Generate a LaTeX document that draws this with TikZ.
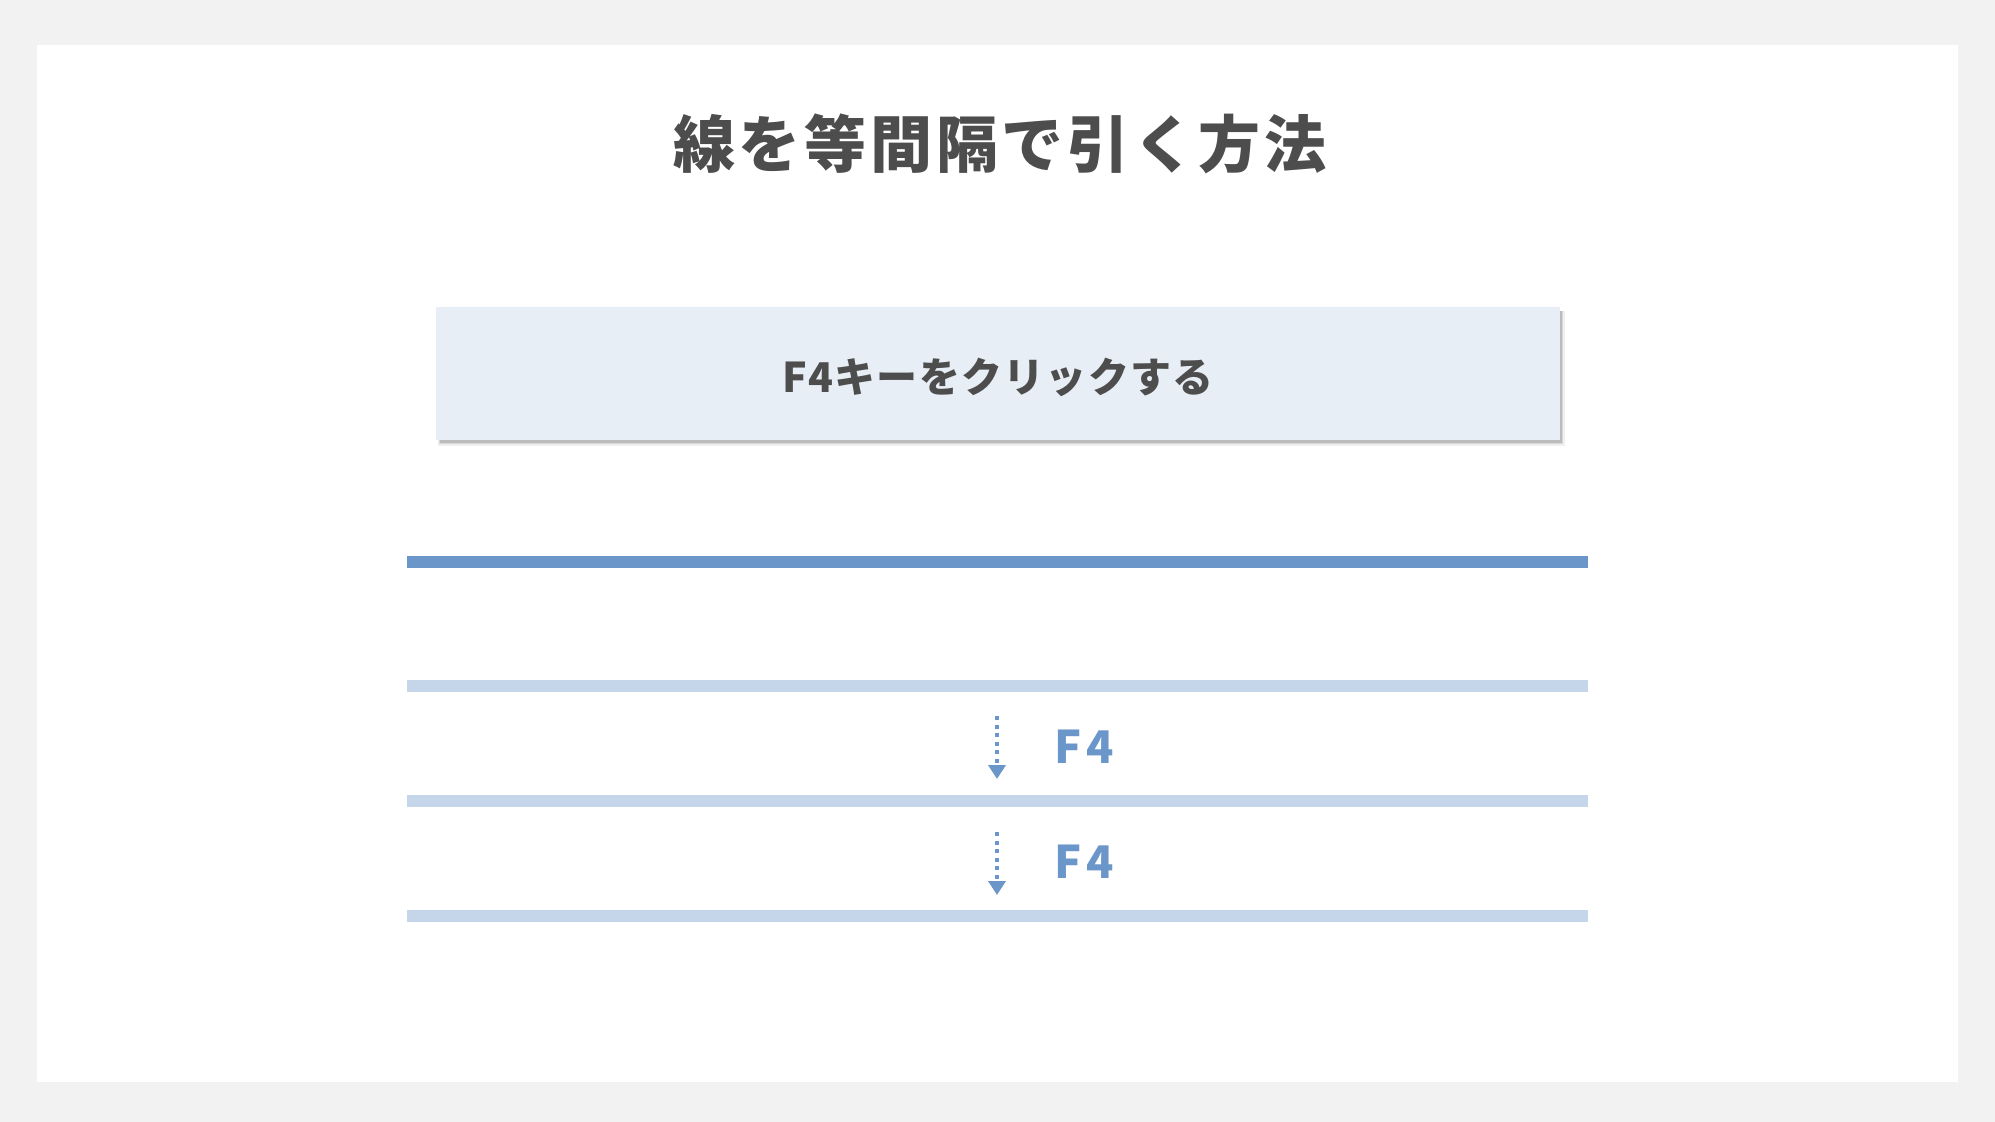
\documentclass[tikz,border=0pt]{standalone}
\usepackage{fontspec}
\newfontfamily\cjk{Noto Sans CJK JP}
\newfontfamily\cjkt{Noto Sans CJK JP}[LetterSpace=6]
\newfontfamily\cjkb{Noto Sans CJK JP}[LetterSpace=3]
\newfontfamily\cjkf{Noto Sans CJK JP}[LetterSpace=10]
\usetikzlibrary{arrows.meta}
\definecolor{outerbg}{HTML}{F2F2F2}
\definecolor{txtgray}{HTML}{4D4D4D}
\definecolor{boxfill}{HTML}{E8EEF6}
\definecolor{mainblue}{HTML}{6A96CA}
\definecolor{lightblue}{HTML}{C5D6EA}
\tikzset{
  hline/.style={fill=#1, draw=none, minimum width=1181pt, minimum height=12pt, inner sep=0pt, outer sep=0pt},
  steparrow/.style={draw=mainblue, line width=4pt, dash pattern=on 4pt off 4.5pt, -{Triangle[width=17pt,length=14pt,fill=mainblue]}, shorten >=0pt},
  f4label/.style={text=mainblue, font=\cjkf\bfseries\fontsize{45}{50}\selectfont},
}
\begin{document}
\begin{tikzpicture}[x=1pt,y=-1pt]
\fill[outerbg] (0,0) rectangle (1995,1122);
\fill[white] (37,45) rectangle (1958,1082);
\useasboundingbox (0,0) rectangle (1995,1122);
% title
\node[text=txtgray, font=\cjkt\bfseries\fontsize{62}{70}\selectfont, inner sep=0pt] (title) at (1000,144) {線を等間隔で引く方法};
% box with shadow
\fill[black, opacity=0.06] (438,311) rectangle (1565,446);
\fill[black, opacity=0.10] (439,311) rectangle (1563,444);
\fill[black, opacity=0.12] (440,311) rectangle (1562,443);
\node[fill=boxfill, draw=none, minimum width=1124pt, minimum height=133pt, inner sep=0pt] (box) at (998,373.5) {};
\node[text=txtgray, font=\cjkb\bfseries\fontsize{41}{46}\selectfont, inner sep=0pt] (boxtext) at ([yshift=-4pt]box.center) {F4キーをクリックする};
% lines
\node[hline=mainblue] (l0) at (997.5,562) {};
\node[hline=lightblue] (l1) at (997.5,686) {};
\node[hline=lightblue] (l2) at (997.5,801) {};
\node[hline=lightblue] (l3) at (997.5,916) {};
% arrows
\coordinate (a1s) at (997,716);
\coordinate (a1e) at (997,779);
\coordinate (a2s) at (997,832);
\coordinate (a2e) at (997,895);
\draw[steparrow] (a1s) -- (a1e);
\draw[steparrow] (a2s) -- (a2e);
\node[f4label] (f1) at (1084,747) {F4};
\node[f4label] (f2) at (1084,862) {F4};
\end{tikzpicture}
\end{document}
